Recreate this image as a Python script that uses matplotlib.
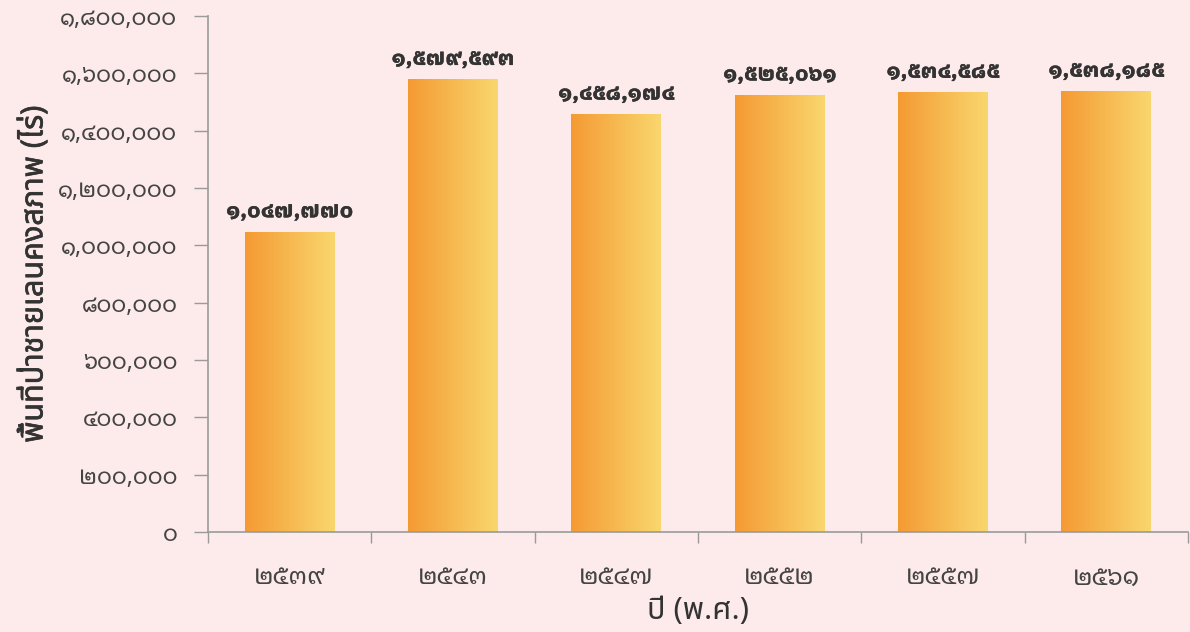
import matplotlib
matplotlib.use("Agg")
import matplotlib.pyplot as plt
import matplotlib.patheffects as pe
import numpy as np
from matplotlib.colors import LinearSegmentedColormap
from matplotlib.ticker import FixedLocator

plt.rcParams['font.family'] = ['Noto Sans Thai', 'DejaVu Sans']
NUM_FONT = ['Noto Sans Thai Looped', 'Noto Sans Thai', 'DejaVu Sans']
VALUE_FONT = ['IBM Plex Sans Thai Looped', 'Noto Sans Thai Looped', 'DejaVu Sans']

THAI_DIGITS = str.maketrans("0123456789", "๐๑๒๓๔๕๖๗๘๙")

def thai_num(v):
    return f"{int(v):,}".translate(THAI_DIGITS)

years = ["๒๕๓๙", "๒๕๔๓", "๒๕๔๗", "๒๕๕๒", "๒๕๕๗", "๒๕๖๑"]
area_rai = [1047770, 1579593, 1458174, 1525061, 1534585, 1538185]
y_ticks = list(range(0, 1800001, 200000))

bg = "#FDEAEA"
text_dark = "#333333"
spine_col = "#9A9A9A"
grad = LinearSegmentedColormap.from_list("bar_grad", ["#F59A33", "#F9D76E"])

fig = plt.figure(figsize=(11.9, 6.32), dpi=100, facecolor=bg)
ax = fig.add_axes([208 / 1190, 100 / 632, 980 / 1190, 516 / 632])
ax.set_facecolor(bg)

x = np.arange(len(years))
bars = ax.bar(x, area_rai, width=0.55, color="none", edgecolor="none", zorder=2)

# horizontal orange-to-yellow fill, clipped to each bar
gradient = np.linspace(0, 1, 256).reshape(1, -1)
for rect, val in zip(bars, area_rai):
    x0, y0 = rect.get_x(), rect.get_y()
    w, h = rect.get_width(), rect.get_height()
    im = ax.imshow(gradient, cmap=grad, aspect="auto", extent=[x0, x0 + w, y0, y0 + h],
                   zorder=2, interpolation="bicubic")
    im.set_clip_path(rect)
    ax.text(x0 + w / 2, val + 36000, thai_num(val), ha="center", va="bottom",
            fontsize=15.5, fontweight="bold", color=text_dark, zorder=3, family=VALUE_FONT,
            path_effects=[pe.withStroke(linewidth=0.3, foreground=text_dark)])

ax.set_xlim(-0.5, len(years) - 0.5)
ax.set_ylim(0, 1800000)

ax.set_yticks(y_ticks)
ax.set_yticklabels([thai_num(v) for v in y_ticks], fontsize=16.5, color="#444444",
                   fontweight="light", family=NUM_FONT)
ax.tick_params(axis="y", length=10, width=1, color=spine_col, pad=12)

ax.set_xticks(x)
ax.set_xticklabels(years, fontsize=18, color="#444444", fontweight="light", family=NUM_FONT)
ax.tick_params(axis="x", which="major", length=0, pad=24)
ax.xaxis.set_minor_locator(FixedLocator(np.arange(-0.5, len(years), 1.0)))
ax.tick_params(axis="x", which="minor", length=8, width=1, color=spine_col)

for side in ("top", "right"):
    ax.spines[side].set_visible(False)
for side in ("left", "bottom"):
    ax.spines[side].set_color(spine_col)
    ax.spines[side].set_linewidth(1.2)

ylab = ax.set_ylabel("พื้นที่ป่าชายเลนคงสภาพ (ไร่)", fontsize=22, fontweight="semibold",
                     color=text_dark, labelpad=6)
ylab.set_path_effects([pe.withStroke(linewidth=0.45, foreground=text_dark)])
ax.set_xlabel("ปี (พ.ศ.)", fontsize=22, color=text_dark, labelpad=4)

fig.savefig("out.png", dpi=100, facecolor=bg)
